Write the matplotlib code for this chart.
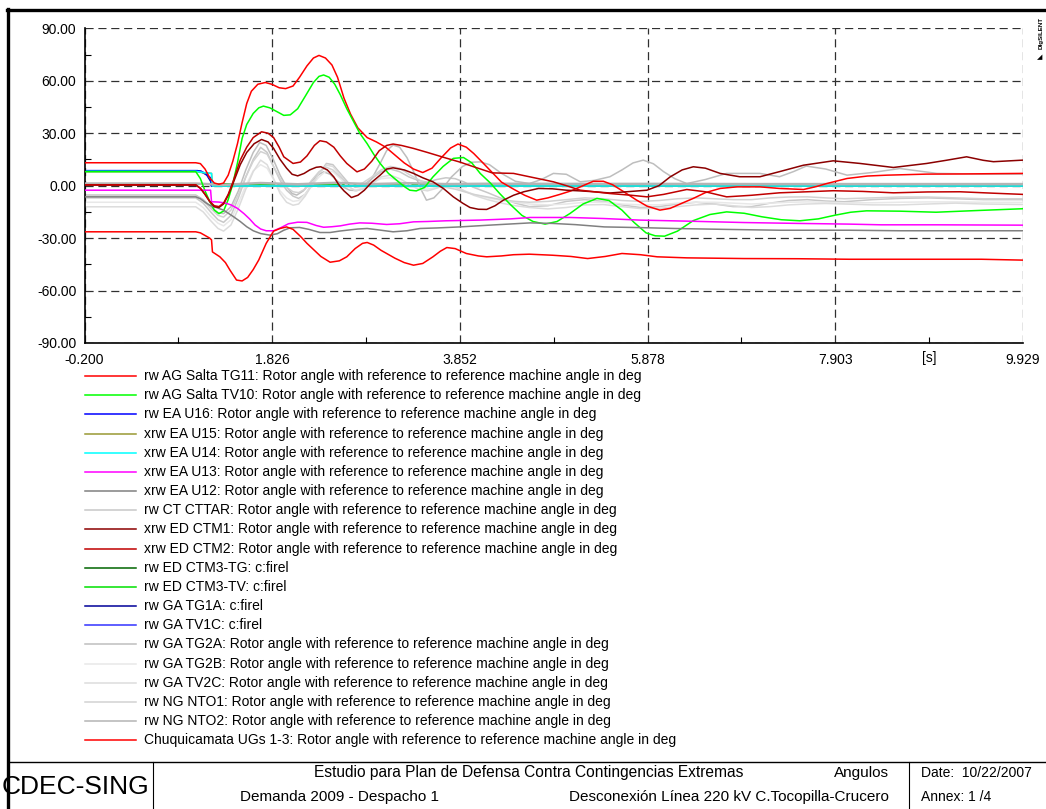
import matplotlib
matplotlib.use("Agg")
import matplotlib.pyplot as plt
from matplotlib.lines import Line2D
from matplotlib.ticker import MultipleLocator, FixedLocator

W, H = 1046, 809

# time [s] / rotor angle [deg]
t_tg11 = [-0.2, 1.0, 1.05, 1.1, 1.15, 1.2, 1.25, 1.3, 1.35, 1.4, 1.45, 1.5, 1.55, 1.6, 1.67, 1.75, 1.82, 1.9, 1.97, 2.05,
          2.12, 2.2, 2.27, 2.33, 2.4, 2.47, 2.53, 2.6, 2.67, 2.75, 2.85, 2.95, 3.05, 3.15, 3.25, 3.35, 3.45, 3.55, 3.65, 3.75,
          3.83, 3.92, 4.0, 4.1, 4.2, 4.3, 4.43, 4.55, 4.68, 4.8, 4.93, 5.05, 5.15, 5.29, 5.4, 5.5, 5.62, 5.75, 5.87, 6.01,
          6.12, 6.25, 6.37, 6.5, 6.66, 6.84, 7.09, 7.3, 7.56, 7.7, 7.81, 8.03, 8.25, 8.46, 8.89, 9.3, 9.929]
v_tg11 = [13.1, 13.1, 12.6, 9.5, 4.5, 1.5, 0.8, 1.5, 6, 14, 24, 36, 47, 54, 58, 59, 58, 56, 55.5, 57,
          62, 68.5, 73, 74.5, 73, 69, 62, 50, 41, 33, 27.5, 25, 22, 17.5, 13, 9.5, 7.5, 10, 16, 21.5,
          23.8, 22, 18.4, 13, 7.5, 2, -2, -5.5, -8.3, -7, -5, -3, -0.7, 2.5, 2.5, 0.5, -3.5, -8, -11.7, -14,
          -13, -10, -7.3, -4, -1.6, -0.7, -0.7, -1.6, -2.2, -0.5, 1.2, 4.1, 5.5, 6, 6.6, 6.7, 7.0]

t_tv10 = [-0.2, 1.0, 1.05, 1.1, 1.15, 1.2, 1.25, 1.3, 1.35, 1.4, 1.45, 1.5, 1.55, 1.62, 1.68, 1.73, 1.8, 1.87, 1.95, 2.02,
          2.1, 2.18, 2.27, 2.33, 2.38, 2.44, 2.5, 2.56, 2.63, 2.7, 2.77, 2.85, 2.92, 2.99, 3.08, 3.17, 3.25, 3.31, 3.38, 3.47,
          3.56, 3.67, 3.78, 3.89, 3.98, 4.07, 4.18, 4.28, 4.4, 4.52, 4.64, 4.77, 4.9, 5.04, 5.18, 5.33, 5.46, 5.6, 5.73, 5.86,
          5.96, 6.06, 6.2, 6.37, 6.55, 6.73, 6.92, 7.11, 7.32, 7.52, 7.72, 7.9, 8.07, 8.24, 8.6, 8.99, 9.4, 9.929]
v_tv10 = [8, 8, 4, -3, -9, -14, -16, -14.5, -8, 1, 13, 27, 35, 41.3, 44.5, 45.5, 44.5, 42.5, 40.2, 40.5,
          44, 51, 59, 62.5, 63.3, 62, 58, 52, 44, 37, 30, 24, 18, 12.7, 7, 3, -0.5, -2.6, -3, -1,
          5, 11, 15.6, 16.1, 13, 7, 1.5, -4.5, -11, -17, -20.5, -22, -20.5, -15.9, -10.5, -7.3, -8.5, -14, -21, -27,
          -28.7, -28.9, -26, -20, -16.5, -15, -15.8, -17.8, -19.5, -20.1, -19, -16.9, -15.2, -14.4, -14.6, -15.2, -14.3, -13.2]

t_u16 = [-0.2, 1.02, 1.1, 1.16, 1.17, 9.929]
v_u16 = [8.6, 8.6, 7.0, 4.5, -0.2, -0.2]
t_u15 = [-0.2, 1.0, 1.08, 1.17, 1.18, 9.929]
v_u15 = [8.0, 8.0, 7.4, 7.0, -0.2, -0.2]
t_u14 = [-0.2, 1.0, 1.08, 1.17, 1.18, 9.929]
v_u14 = [8.2, 8.2, 7.5, 7.0, -0.2, -0.2]

t_u13 = [-0.2, 1.16, 1.17, 1.25, 1.32, 1.38, 1.45, 1.52, 1.58, 1.64, 1.7, 1.76, 1.84, 1.92, 2.0, 2.1, 2.2, 2.3, 2.38, 2.47,
         2.56, 2.66, 2.77, 2.9, 3.06, 3.2, 3.35, 3.5, 3.7, 4.07, 4.4, 4.61, 5.04, 5.4, 5.79, 6.3, 6.92, 7.5, 8.05, 8.4,
         9.0, 9.929]
v_u13 = [-2.6, -2.6, -9.2, -9.4, -10, -11, -13, -16, -19, -22.5, -24.8, -25.8, -25.8, -24, -21.8, -20.9, -21, -22.8, -23.8, -23.5,
         -23, -22, -21.3, -21.5, -22.2, -21.8, -20.7, -20.5, -20.1, -19.7, -19, -18.2, -18.2, -18.8, -19.7, -20.3, -21.1, -21.6, -22, -22.4,
         -22.4, -22.6]

t_u12 = [-0.2, 1.0, 1.05, 1.1, 1.15, 1.2, 1.3, 1.4, 1.48, 1.55, 1.62, 1.7, 1.8, 1.88, 1.95, 2.02, 2.12, 2.22, 2.34, 2.45,
         2.55, 2.63, 2.75, 2.85, 3.0, 3.13, 3.28, 3.42, 3.6, 3.85, 4.2, 4.61, 4.85, 5.1, 5.41, 5.8, 6.17, 6.7, 7.3, 8.05,
         8.6, 9.929]
v_u12 = [-6.4, -6.4, -7.5, -9.5, -11.2, -12.1, -14, -17.5, -20.5, -23.5, -25.8, -27.4, -28.3, -27.5, -25.5, -24.1, -23.9, -25, -26.8, -26.8,
         -26, -25.5, -24.8, -24.5, -25.5, -26.4, -25.8, -24.5, -24.2, -23.6, -22.5, -21.3, -21.6, -22.3, -23.6, -24, -24.5, -25, -25.5, -25.5,
         -25.8, -25.8]

# light grey machines share one time base
t_grey = [-0.2, 1.0, 1.08, 1.16, 1.24, 1.3, 1.38, 1.46, 1.54, 1.62, 1.7, 1.77, 1.84, 1.91, 1.98, 2.05, 2.11, 2.18, 2.25, 2.33,
          2.41, 2.48, 2.56, 2.64, 2.72, 2.8, 2.9, 3.0, 3.1, 3.2, 3.3, 3.4, 3.5, 3.6, 3.7, 3.8, 3.9, 4.0, 4.15, 4.3,
          4.45, 4.6, 4.8, 5.0, 5.2, 5.4, 5.6, 5.8, 6.0, 6.2, 6.4, 6.6, 6.8, 7.0, 7.2, 7.4, 7.6, 7.8, 8.0, 8.3,
          8.6, 8.9, 9.2, 9.5, 9.929]
v_cttar = [-7, -7, -10, -15, -19.5, -21, -17, -7, 5, 15, 21.9, 19, 10.8, 3, -2.6, -6, -7.3, -5, 0.3, 7,
           12.7, 12, 7, 2, -1, 0, 4, 8, 9.5, 8, 5, 3, 2, 3.5, 4.5, 4, 2, -1, -4, -7.3,
           -10, -12, -11.5, -9, -8, -9, -11, -12.5, -12, -10.5, -9.5, -10.5, -12, -12, -10, -8.5, -8, -8.8, -9.2, -8,
           -7.3, -7, -7.5, -8, -8]
v_tv2c = [-12.1, -12.1, -15, -20, -24.5, -26, -22.5, -13, -2, 8, 14.6, 12, 4, -4.5, -9.5, -11.2, -10.5, -6, 0, 7,
          11.7, 11, 6, 0, -3, -2, 1, 5, 6, 4, 1, -2, -3, -1.5, 0.5, -0.5, -3, -5.5, -8, -10,
          -11.5, -12.5, -13.3, -12.5, -11, -10.8, -12, -13.1, -13, -12, -11, -10.5, -11.5, -12.5, -12, -11, -10.5, -10.2, -10.5, -11,
          -11, -10.5, -10, -10.5, -10.8]
v_nto1 = [-5.8, -5.8, -8.5, -13, -17, -18, -14, -5, 5, 14, 19.5, 18, 11, 4, -1, -3.5, -4, -2, 3, 8,
          10.5, 9, 5, 1.5, 0, 1.5, 5, 9, 11, 10, 6.5, 3.5, 1, -0.5, -1, -2, -3.5, -5, -6.5, -8,
          -9, -9.5, -9, -8, -7, -7.5, -8.5, -9, -8.5, -7.5, -7, -7.5, -8, -8, -7, -6.5, -6.4, -7, -7.5, -7,
          -6.5, -6.5, -7, -7.5, -7.5]
v_tg2b = [-9.5, -9.5, -12.5, -17.5, -21.5, -23, -19.5, -10, 0, 8.5, 12, 10, 3.5, -3, -7, -9, -8.5, -5, 0, 5,
          8.5, 8, 4, -0.5, -2.5, -1.5, 1.5, 4, 4.5, 2.5, 0, -1.5, -2, -1, 0, -1, -3, -5, -7, -8.5,
          -9.5, -10.5, -11, -10.5, -9.5, -9.5, -10.5, -11, -11, -10, -9.5, -9.5, -10, -10.5, -10, -9.5, -9.3, -9.5, -9.8, -9.8,
          -9.5, -9.3, -9.3, -9.5, -9.6]

t_ctm1 = [-0.2, 1.0, 1.05, 1.1, 1.15, 1.2, 1.25, 1.3, 1.35, 1.4, 1.48, 1.55, 1.63, 1.71, 1.78, 1.84, 1.91, 1.98, 2.04, 2.1,
          2.17, 2.23, 2.3, 2.35, 2.42, 2.49, 2.55, 2.6, 2.68, 2.75, 2.82, 2.9, 2.99, 3.06, 3.13, 3.25, 3.35, 3.45, 3.56, 3.67,
          3.78, 3.88, 3.96, 4.05, 4.14, 4.23, 4.32, 4.43, 4.54, 4.7, 4.85, 5.0, 5.15, 5.3, 5.47, 5.65, 5.87, 6.0, 6.12, 6.25,
          6.37, 6.5, 6.66, 6.87, 7.09, 7.3, 7.56, 7.88, 8.17, 8.53, 8.89, 9.1, 9.32, 9.5, 9.61, 9.929]
v_ctm1 = [0.3, 0.3, -1.5, -5, -9, -12, -12.5, -10.5, -5.5, 1, 12, 19, 24, 26.4, 25, 21.3, 15, 10, 6.5, 5.6,
          7, 9, 10.5, 10.8, 9, 5, 0, -3, -6.8, -5.5, -2.6, 2, 6, 9.5, 10.2, 9, 7, 4.5, 2.2, -1.5,
          -6.4, -10, -12.5, -13.5, -13.6, -11.5, -8.3, -5.5, -3.5, -1.6, -1.8, -2.6, -3, -3.5, -4.2, -3.5, -2.6, 0, 5, 9,
          10.8, 10, 7, 5.1, 5.1, 8, 11.7, 14.2, 12.7, 10.4, 12.7, 14.5, 16.5, 14.5, 13.7, 14.6]

t_ctm2 = [-0.2, 1.0, 1.05, 1.1, 1.15, 1.2, 1.25, 1.3, 1.35, 1.4, 1.48, 1.55, 1.62, 1.71, 1.78, 1.84, 1.9, 1.95, 2.05, 2.13,
          2.2, 2.28, 2.34, 2.41, 2.49, 2.56, 2.63, 2.74, 2.82, 2.9, 2.98, 3.06, 3.13, 3.22, 3.35, 3.5, 3.7, 3.85, 4.0, 4.2,
          4.43, 4.6, 4.86, 5.0, 5.15, 5.47, 5.7, 5.87, 6.05, 6.3, 6.5, 6.73, 7.0, 7.3, 7.6, 7.88, 8.2, 8.53, 8.9, 9.25,
          9.6, 9.929]
v_ctm2 = [0.5, 0.5, -1.5, -5, -9, -11.5, -12, -10, -5, 2, 14.6, 22, 27.5, 30.8, 30, 27.5, 22, 16.5, 12.7, 13.5,
          17, 23, 25.7, 25, 22, 17, 12.7, 7.9, 9.5, 14, 20, 23, 23.8, 23, 21.3, 19, 15.8, 13.5, 10.8, 7.3,
          7, 5.1, 2.2, 0, -2.6, -4.5, -5.5, -6.4, -5, -2.2, -3.5, -6.4, -5.5, -4.1, -3.5, -2.9, -3.3, -4.1, -3.6, -3.5,
          -4.3, -5]

t_firel = [-0.2, 9.929]
v_ctm3tg = [1.0, 1.0]
v_ctm3tv = [1.0, 1.0]
t_ga1 = [-0.2, 1.05, 1.12, 1.16, 1.17, 9.929]
v_tg1a = [8.4, 8.4, 6.0, 2.5, -0.2, -0.2]
v_tv1c = [8.5, 8.5, 6.5, 3.5, -0.2, -0.2]

t_tg2a = [-0.2, 1.0, 1.08, 1.16, 1.24, 1.3, 1.38, 1.46, 1.54, 1.62, 1.69, 1.76, 1.84, 1.91, 1.98, 2.04, 2.09, 2.16, 2.23, 2.3,
          2.38, 2.45, 2.52, 2.6, 2.66, 2.74, 2.81, 2.9, 2.99, 3.06, 3.13, 3.2, 3.28, 3.36, 3.43, 3.49, 3.57, 3.66, 3.76, 3.88,
          3.98, 4.07, 4.17, 4.3, 4.45, 4.6, 4.73, 4.86, 5.0, 5.15, 5.3, 5.47, 5.6, 5.72, 5.83, 5.94, 6.05, 6.17, 6.3, 6.5,
          6.73, 7.09, 7.3, 7.45, 7.59, 7.8, 8.03, 8.3, 8.6, 9.0, 9.5, 9.929]
v_tg2a = [-5.4, -5.4, -8, -12, -15.5, -16, -12, -3, 9, 19, 24.7, 23, 14.6, 6, -0.7, -4.5, -5.4, -3, 1.2, 5.5,
          7.9, 6.5, 3.1, -1, -2.6, -2.8, -1.6, 4, 12.7, 20, 23.2, 22, 16, 7, -2, -8.3, -7, -2, 5, 11,
          13.4, 13.6, 12, 7, 2.5, 1.2, 3.5, 7, 6.5, 2.2, 3, 5.1, 9, 13, 14.6, 12.5, 8, 4, 1.2, 3.5,
          7, 7, 5.1, 8, 11.2, 9.5, 6, 7.5, 9.8, 7, 6.6, 6.6]

t_nto2 = [-0.2, 1.0, 1.3, 1.7, 2.1, 2.5, 2.9, 3.3, 3.7, 4.2, 5.0, 6.0, 7.0, 8.0, 9.0, 9.929]
v_nto2 = [1.2, 1.2, 0.5, 1.5, 0.8, 1.6, 0.9, 1.4, 0.9, 1.1, 1.0, 1.0, 0.9, 0.9, 0.9, 0.9]

t_chuqui = [-0.2, 1.0, 1.05, 1.1, 1.15, 1.17, 1.18, 1.26, 1.32, 1.37, 1.44, 1.5, 1.56, 1.62, 1.68, 1.76, 1.84, 1.91, 1.98, 2.05,
            2.13, 2.2, 2.27, 2.35, 2.45, 2.55, 2.63, 2.72, 2.8, 2.85, 2.92, 3.0, 3.06, 3.15, 3.25, 3.35, 3.45, 3.56, 3.64, 3.71,
            3.8, 3.92, 4.05, 4.14, 4.3, 4.43, 4.6, 4.85, 5.05, 5.23, 5.42, 5.6, 5.8, 5.98, 6.3, 6.92, 7.5, 8.05, 8.8, 9.48,
            9.929]
v_chuqui = [-26.4, -26.4, -27, -28.5, -30, -31, -37.9, -40.7, -44, -48.4, -54, -54.5, -52.5, -48, -42.5, -33, -26, -24.5, -23.6, -25,
            -29, -33, -36.5, -40.5, -43.8, -43, -40.7, -36, -33, -32.5, -34, -37, -38.8, -41.5, -44, -45.5, -44.5, -40.7, -37.5, -35.4,
            -36, -38.8, -40.2, -40.7, -40.2, -39.5, -39.2, -39.8, -40.5, -41.7, -40.5, -38.8, -39.5, -40.7, -41.3, -41.7, -41.8, -42.1, -42.1, -42.1,
            -42.6]

ang = "Rotor angle with reference to reference machine angle in deg"
labels = ["rw AG Salta TG11: " + ang, "rw AG Salta TV10: " + ang, "rw EA U16: " + ang,
          "xrw EA U15: " + ang, "xrw EA U14: " + ang, "xrw EA U13: " + ang, "xrw EA U12: " + ang,
          "rw CT CTTAR: " + ang, "xrw ED CTM1: " + ang, "xrw ED CTM2: " + ang,
          "rw ED CTM3-TG: c:firel", "rw ED CTM3-TV: c:firel", "rw GA TG1A: c:firel", "rw GA TV1C: c:firel",
          "rw GA TG2A: " + ang, "rw GA TG2B: " + ang, "rw GA TV2C: " + ang,
          "rw NG NTO1: " + ang, "rw NG NTO2: " + ang, "Chuquicamata UGs 1-3: " + ang]
times = [t_tg11, t_tv10, t_u16, t_u15, t_u14, t_u13, t_u12, t_grey, t_ctm1, t_ctm2,
         t_firel, t_firel, t_ga1, t_ga1, t_tg2a, t_grey, t_grey, t_grey, t_nto2, t_chuqui]
values = [v_tg11, v_tv10, v_u16, v_u15, v_u14, v_u13, v_u12, v_cttar, v_ctm1, v_ctm2,
          v_ctm3tg, v_ctm3tv, v_tg1a, v_tv1c, v_tg2a, v_tg2b, v_tv2c, v_nto1, v_nto2, v_chuqui]
colors = ["#ff0000", "#00ff00", "#0000ff", "#999933", "#00ffff", "#ff00ff", "#808080",
          "#c8c8c8", "#8b0000", "#c00000", "#006400", "#00e000", "#000099", "#3333ff",
          "#bebebe", "#e8e8e8", "#dcdcdc", "#d2d2d2", "#b4b4b4", "#ff0000"]
zorders = [3, 3, 2.2, 2.2, 2.4, 3, 3, 2, 3, 3, 1.5, 1.5, 2.1, 2.1, 2, 2, 2, 2, 2.6, 3.2]
widths = [1.1] * 20
widths[18] = 1.8

xticks = [-0.200, 1.826, 3.852, 5.878, 7.903, 9.929]
xlabels = ["-0.200", "1.826", "3.852", "5.878", "7.903", "9.929"]
yticks = [-90, -60, -30, 0, 30, 60, 90]

plt.rcParams['font.family'] = ['Liberation Sans', 'DejaVu Sans']

fig = plt.figure(figsize=(W / 100, H / 100), dpi=100)


def fx(px):
    return px / W


def fy(py):
    return 1 - py / H


ax = fig.add_axes([fx(84.6), fy(343), fx(1023) - fx(84.6), fy(28.3) - fy(343)])
for t, v, c, z, lw in zip(times, values, colors, zorders, widths):
    ax.plot(t, v, color=c, lw=lw, zorder=z, solid_joinstyle='round')

ax.set_xlim(xticks[0], xticks[-1])
ax.set_ylim(-90, 90)
ax.set_xticks(xticks)
ax.set_xticklabels(xlabels)
ax.set_yticks(yticks)
ax.set_yticklabels(["%.2f" % y for y in yticks])
ax.xaxis.set_minor_locator(FixedLocator([(a + b) / 2 for a, b in zip(xticks[:-1], xticks[1:])]))
ax.yaxis.set_minor_locator(MultipleLocator(15))
ax.tick_params(which='major', length=0, labelsize=10, pad=6)
ax.tick_params(axis='x', which='major', pad=7)
ax.tick_params(which='minor', direction='in', length=4, width=0.8, color='black')
ax.grid(True, which='major', color='#303030', lw=0.9, linestyle=(0, (6.5, 3.8)), zorder=0.5)
ax.set_axisbelow(True)
for s in ['top', 'right']:
    ax.spines[s].set_visible(False)
for s in ['left', 'bottom']:
    ax.spines[s].set_linewidth(1.2)
ax.text((xticks[4] + xticks[5]) / 2, -94.6, "[s]", ha='center', va='top', fontsize=10, clip_on=False)

# legend rows
for i, (lab, c) in enumerate(zip(labels, colors)):
    yy = fy(376 + i * 19.17)
    fig.add_artist(Line2D([fx(85), fx(136)], [yy, yy], color=c, lw=1.1))
    fig.text(fx(144), yy, lab, fontsize=10, va='center', ha='left')

# frame and title block
fig.add_artist(Line2D([fx(7), 1], [fy(9.5), fy(9.5)], color='black', lw=2.4))
fig.add_artist(Line2D([fx(8), fx(8)], [fy(8.5), 0], color='black', lw=2.4))
fig.add_artist(Line2D([fx(8), 1], [fy(762), fy(762)], color='black', lw=1.0))
fig.add_artist(Line2D([fx(153), fx(153)], [fy(762), 0], color='black', lw=0.8))
fig.add_artist(Line2D([fx(909), fx(909)], [fy(762), 0], color='black', lw=0.8))

fig.text(fx(2), fy(787), "CDEC-SING", fontsize=19, va='center', ha='left')
fig.text(fx(529), fy(773), "Estudio para Plan de Defensa Contra Contingencias Extremas",
         fontsize=11.2, va='center', ha='center')
fig.text(fx(889), fy(773), "Angulos", fontsize=11, va='center', ha='right')
fig.text(fx(340), fy(797), "Demanda 2009 - Despacho 1", fontsize=11, va='center', ha='center')
fig.text(fx(889), fy(797), "Desconexión Línea 220 kV C.Tocopilla-Crucero", fontsize=11,
         va='center', ha='right')
fig.text(fx(921), fy(773), "Date:  10/22/2007", fontsize=10, va='center', ha='left')
fig.text(fx(921), fy(797), "Annex: 1 /4", fontsize=10, va='center', ha='left')

# DIgSILENT mark
fig.text(fx(1041), fy(33), "DIgSILENT", fontsize=4.5, fontweight='bold', rotation=90, va='center', ha='center')
fig.text(fx(1040), fy(57), "\u25e2", fontsize=5, va='center', ha='center', family='DejaVu Sans')

fig.savefig("out.png", dpi=100)
